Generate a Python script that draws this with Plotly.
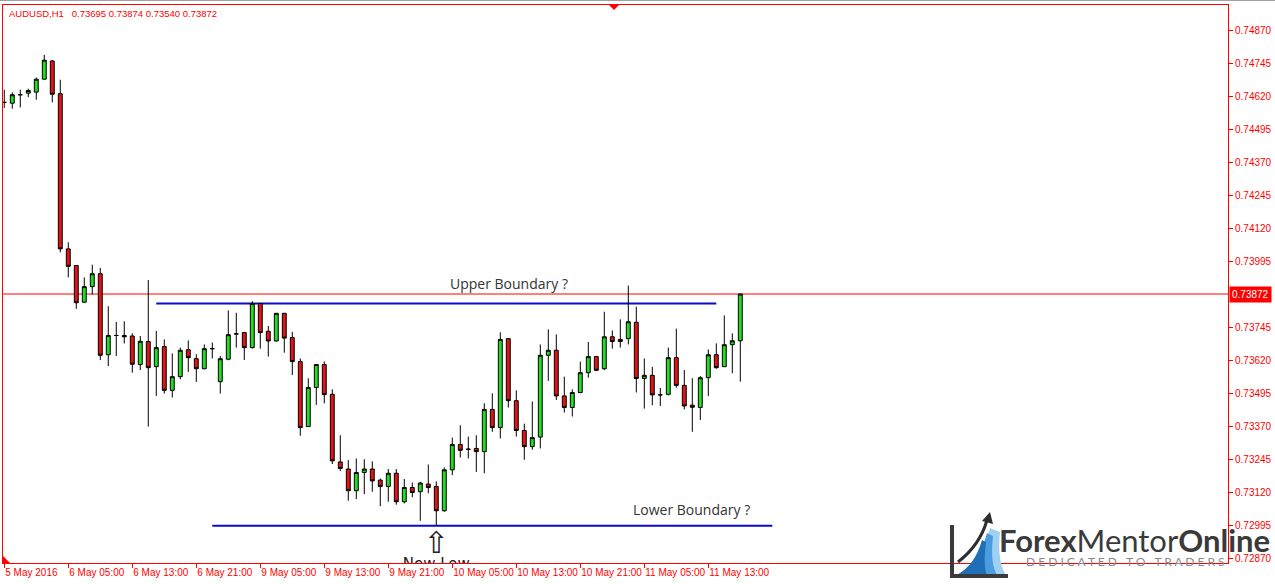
import plotly.graph_objects as go

# ---------------- data ----------------
symbol_header = "AUDUSD,H1\u00a0\u00a0 0.73695 0.73874 0.73540 0.73872"

open_ = [0.74598, 0.74595, 0.74627, 0.74633, 0.74637, 0.74686, 0.74755, 0.74631, 0.74043, 0.73980,
         0.73841, 0.73900, 0.73949, 0.73642, 0.73715, 0.73715, 0.73713, 0.73605, 0.73692, 0.73597,
         0.73673, 0.73507, 0.73559, 0.73661, 0.73627, 0.73589, 0.73665, 0.73540, 0.73625, 0.73721,
         0.73726, 0.73669, 0.73836, 0.73731, 0.73694, 0.73799, 0.73707, 0.73616, 0.73370, 0.73518,
         0.73605, 0.73492, 0.73236, 0.73209, 0.73127, 0.73196, 0.73209, 0.73167, 0.73143, 0.73193,
         0.73085, 0.73139, 0.73123, 0.73152, 0.73143, 0.73051, 0.73206, 0.73302, 0.73284, 0.73287,
         0.73275, 0.73435, 0.73366, 0.73703, 0.73468, 0.73355, 0.73294, 0.73330, 0.73640, 0.73659,
         0.73486, 0.73442, 0.73499, 0.73574, 0.73635, 0.73589, 0.73710, 0.73692, 0.73703, 0.73765,
         0.73552, 0.73564, 0.73490, 0.73492, 0.73631, 0.73526, 0.73451, 0.73442, 0.73555, 0.73642,
         0.73597, 0.73680, 0.73695]
high = [0.74646, 0.74636, 0.74646, 0.74650, 0.74692, 0.74778, 0.74759, 0.74684, 0.74068, 0.73981,
        0.73935, 0.73983, 0.73971, 0.73826, 0.73766, 0.73769, 0.73723, 0.73713, 0.73925, 0.73732,
        0.73700, 0.73647, 0.73669, 0.73696, 0.73644, 0.73681, 0.73688, 0.73637, 0.73810, 0.73801,
        0.73727, 0.73845, 0.73838, 0.73751, 0.73800, 0.73800, 0.73729, 0.73628, 0.73553, 0.73606,
        0.73617, 0.73511, 0.73337, 0.73243, 0.73249, 0.73246, 0.73238, 0.73173, 0.73209, 0.73209,
        0.73171, 0.73158, 0.73161, 0.73226, 0.73162, 0.73215, 0.73328, 0.73375, 0.73332, 0.73337,
        0.73458, 0.73496, 0.73727, 0.73704, 0.73507, 0.73381, 0.73465, 0.73681, 0.73738, 0.73719,
        0.73559, 0.73511, 0.73616, 0.73690, 0.73636, 0.73805, 0.73734, 0.73776, 0.73904, 0.73824,
        0.73628, 0.73596, 0.73516, 0.73669, 0.73741, 0.73584, 0.73553, 0.73561, 0.73662, 0.73685,
        0.73791, 0.73723, 0.73874]
low = [0.74577, 0.74574, 0.74579, 0.74618, 0.74608, 0.74684, 0.74598, 0.74030, 0.73935, 0.73816,
       0.73839, 0.73870, 0.73622, 0.73599, 0.73637, 0.73685, 0.73574, 0.73584, 0.73370, 0.73486,
       0.73495, 0.73480, 0.73549, 0.73577, 0.73539, 0.73587, 0.73628, 0.73495, 0.73621, 0.73669,
       0.73622, 0.73665, 0.73665, 0.73635, 0.73692, 0.73650, 0.73565, 0.73335, 0.73368, 0.73452,
       0.73458, 0.73228, 0.73202, 0.73089, 0.73095, 0.73114, 0.73123, 0.73068, 0.73085, 0.73074,
       0.73079, 0.73102, 0.73013, 0.73117, 0.72994, 0.73047, 0.73186, 0.73253, 0.73249, 0.73198,
       0.73193, 0.73350, 0.73325, 0.73442, 0.73332, 0.73244, 0.73282, 0.73287, 0.73543, 0.73471,
       0.73423, 0.73408, 0.73496, 0.73555, 0.73580, 0.73584, 0.73665, 0.73669, 0.73681, 0.73499,
       0.73438, 0.73451, 0.73448, 0.73488, 0.73517, 0.73435, 0.73350, 0.73395, 0.73486, 0.73589,
       0.73595, 0.73572, 0.73540]
close = [0.74598, 0.74627, 0.74627, 0.74643, 0.74686, 0.74758, 0.74629, 0.74043, 0.73977, 0.73839,
         0.73900, 0.73949, 0.73640, 0.73715, 0.73715, 0.73710, 0.73606, 0.73693, 0.73593, 0.73669,
         0.73507, 0.73559, 0.73659, 0.73631, 0.73589, 0.73665, 0.73665, 0.73627, 0.73718, 0.73721,
         0.73669, 0.73836, 0.73726, 0.73694, 0.73799, 0.73705, 0.73616, 0.73366, 0.73518, 0.73605,
         0.73491, 0.73240, 0.73211, 0.73127, 0.73196, 0.73209, 0.73164, 0.73143, 0.73193, 0.73085,
         0.73139, 0.73120, 0.73156, 0.73139, 0.73051, 0.73206, 0.73302, 0.73280, 0.73284, 0.73275,
         0.73435, 0.73366, 0.73700, 0.73468, 0.73355, 0.73294, 0.73328, 0.73640, 0.73659, 0.73486,
         0.73442, 0.73499, 0.73574, 0.73635, 0.73583, 0.73710, 0.73692, 0.73700, 0.73767, 0.73552,
         0.73564, 0.73490, 0.73490, 0.73631, 0.73526, 0.73448, 0.73443, 0.73555, 0.73642, 0.73593,
         0.73680, 0.73695, 0.73872]

tick_bars = [0, 8, 16, 24, 32, 40, 48, 56, 64, 72, 80, 88]
tick_labels = ["5 May 2016", "6 May 05:00", "6 May 13:00", "6 May 21:00", "9 May 05:00",
               "9 May 13:00", "9 May 21:00", "10 May 05:00", "10 May 13:00", "10 May 21:00",
               "11 May 05:00", "11 May 13:00"]
price_ticks = [0.74870, 0.74745, 0.74620, 0.74495, 0.74370, 0.74245, 0.74120, 0.73995,
               0.73745, 0.73620, 0.73495, 0.73370, 0.73245, 0.73120, 0.72995, 0.72870]

current_price = 0.73872
upper_boundary = 0.73836
upper_span = [19, 89]
lower_boundary = 0.72994
lower_span = [26, 96]
new_low_bar = 54
new_low_arrow_price = 0.72919
new_low_text_price = 0.72846

x_range = [-0.16, 152.96]
y_range = [0.72853, 0.74967]

# ---------------- figure ----------------
bars = list(range(len(open_)))
RED = "#ff0000"
W, H = 1275, 584
L, R, T, B = 3, 47, 5, 21
pw, ph = W - L - R, H - T - B


def px(x):
    return (x - L) / pw


def py(y):
    return (H - B - y) / ph


fig = go.Figure()
fig.add_trace(go.Candlestick(
    x=bars, open=open_, high=high, low=low, close=close,
    increasing=dict(line=dict(color="black", width=1), fillcolor="#22dc22"),
    decreasing=dict(line=dict(color="black", width=1), fillcolor="#e01414"),
    whiskerwidth=0, hoverinfo="skip", showlegend=False,
))

# New Low arrow + label (label clipped by the plot area like the original)
fig.add_trace(go.Scatter(
    x=[new_low_bar, new_low_bar], y=[new_low_arrow_price, new_low_text_price], mode="text",
    text=["\u21e7", "New Low"], textposition="middle center",
    textfont=dict(size=[30, 15], color="#222222", family="DejaVu Sans"),
    cliponaxis=True, hoverinfo="skip", showlegend=False,
))

shapes = [
    dict(type="line", xref="paper", yref="y", x0=0, x1=1, y0=current_price, y1=current_price,
         line=dict(color=RED, width=1), layer="below"),
    dict(type="line", xref="x", yref="y", x0=upper_span[0], x1=upper_span[1],
         y0=upper_boundary, y1=upper_boundary, line=dict(color="#0a0acc", width=2), layer="below"),
    dict(type="line", xref="x", yref="y", x0=lower_span[0], x1=lower_span[1],
         y0=lower_boundary, y1=lower_boundary, line=dict(color="#0a0acc", width=2), layer="below"),
    # shift markers
    dict(type="path", xref="paper", yref="paper",
         path=f"M {px(609)},{py(5)} L {px(619)},{py(5)} L {px(614)},{py(10)} Z",
         fillcolor=RED, line=dict(width=0)),
    dict(type="path", xref="paper", yref="paper",
         path=f"M {px(3)},{py(556)} L {px(3)},{py(563)} L {px(10)},{py(563)} Z",
         fillcolor=RED, line=dict(width=0)),
    # outer grey frame
    dict(type="line", xref="paper", yref="paper", x0=px(0), x1=px(1275), y0=py(0.5), y1=py(0.5),
         line=dict(color="#a0a0a0", width=1)),
    # logo: blue swooshes
    dict(type="path", xref="paper", yref="paper",
         path=(f"M {px(957)},{py(575)} Q {px(982)},{py(562)} {px(990)},{py(528)} "
               f"L {px(1000)},{py(532)} Q {px(997)},{py(562)} {px(1006)},{py(575)} Z"),
         fillcolor="#9fd0f2", line=dict(width=0)),
    dict(type="path", xref="paper", yref="paper",
         path=(f"M {px(957)},{py(575)} Q {px(979)},{py(563)} {px(987)},{py(533)} "
               f"L {px(993)},{py(536)} Q {px(990)},{py(564)} {px(997)},{py(575)} Z"),
         fillcolor="#4a9ee0", line=dict(width=0)),
    dict(type="path", xref="paper", yref="paper",
         path=(f"M {px(957)},{py(575)} Q {px(975)},{py(565)} {px(982)},{py(540)} "
               f"L {px(986)},{py(542)} Q {px(983)},{py(566)} {px(987)},{py(575)} Z"),
         fillcolor="#1f6fb8", line=dict(width=0)),
    # logo: dark axes
    dict(type="path", xref="paper", yref="paper",
         path=f"M {px(952)},{py(525)} L {px(952)},{py(576)} L {px(1008)},{py(576)}",
         line=dict(color="#3a3a3a", width=4)),
    # logo: arrow
    dict(type="path", xref="paper", yref="paper",
         path=f"M {px(958)},{py(562)} Q {px(980)},{py(545)} {px(987)},{py(520)}",
         line=dict(color="#2e2e2e", width=3)),
    dict(type="path", xref="paper", yref="paper",
         path=f"M {px(982)},{py(521)} L {px(990)},{py(512)} L {px(993)},{py(524)} Z",
         fillcolor="#2e2e2e", line=dict(width=0)),
]

annotations = [
    dict(text=symbol_header, xref="paper", yref="paper", x=px(7), y=py(13),
         xanchor="left", yanchor="middle", showarrow=False,
         font=dict(family="Liberation Sans", size=9.5, color=RED)),
    dict(text="Upper Boundary ?", xref="x", yref="y", x=63.1, y=0.73912,
         xanchor="center", yanchor="middle", showarrow=False,
         font=dict(family="Open Sans", size=14, color="#333333")),
    dict(text="Lower Boundary ?", xref="x", yref="y", x=85.96, y=0.73054,
         xanchor="center", yanchor="middle", showarrow=False,
         font=dict(family="Open Sans", size=14, color="#333333")),
    dict(text=f"{current_price:.5f}", xref="paper", yref="y", x=1.0, y=current_price,
         xanchor="left", yanchor="middle", showarrow=False, bgcolor=RED, borderpad=2,
         xshift=1, font=dict(family="Liberation Sans", size=10, color="white")),
    dict(text="<b>Forex</b>Mentor<b>Online</b>", xref="paper", yref="paper",
         x=px(997), y=py(540), xanchor="left", yanchor="middle", showarrow=False,
         font=dict(family="Lato", size=31, color="#3a3a3a")),
    dict(text="D E D I C A T E D \u2002T O \u2002T R A D E R S", xref="paper", yref="paper",
         x=px(1024), y=py(561), xanchor="left", yanchor="middle", showarrow=False,
         font=dict(family="Lato", size=12, color="#8a8a8a")),
]

fig.update_layout(
    width=W, height=H, autosize=False,
    margin=dict(l=L, r=R, t=T, b=B, pad=0, autoexpand=False),
    paper_bgcolor="white", plot_bgcolor="white",
    shapes=shapes, annotations=annotations, showlegend=False,
    xaxis=dict(range=x_range, rangeslider=dict(visible=False), showgrid=False, zeroline=False,
               showline=True, linecolor=RED, linewidth=1, mirror=True, automargin=False,
               tickmode="array", tickvals=tick_bars, ticktext=tick_labels, tickangle=0,
               ticks="outside", ticklen=4, tickcolor=RED, ticklabelposition="outside right",
               tickfont=dict(family="Liberation Sans", size=10, color=RED)),
    yaxis=dict(range=y_range, side="right", showgrid=False, zeroline=False,
               showline=True, linecolor=RED, linewidth=1, mirror=True, automargin=False,
               tickmode="array", tickvals=price_ticks, tickformat=".5f",
               ticks="outside", ticklen=4, tickcolor=RED,
               tickfont=dict(family="Liberation Sans", size=10, color=RED)),
)

fig.write_html("out.html", config={"displayModeBar": False},
               post_script="document.body.style.margin='0px';")
